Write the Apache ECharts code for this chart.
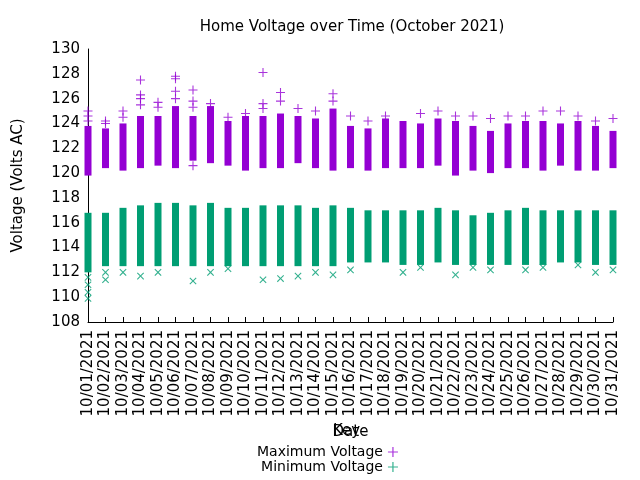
<!DOCTYPE html>
<html><head><meta charset="utf-8">
<script src="https://cdn.jsdelivr.net/npm/echarts@6/dist/echarts.min.js"></script>
<style>html,body{margin:0;background:#fff}#c{width:640px;height:480px}</style>
</head><body><div id="c"></div>
<script>
const days = []
for (let d = 1; d <= 31; d++) days.push('10/' + String(d).padStart(2, '0') + '/2021')

// daily ranges
const maxLow  = [119.8,120.4,120.2,120.4,120.6,120.4,121.0,120.8,120.6,120.2,120.4,120.4,120.8,120.4,120.2,120.4,120.2,120.4,120.4,120.4,120.6,119.8,120.2,120.0,120.4,120.4,120.2,120.6,120.2,120.2,120.4]
const maxHigh = [123.8,123.6,124.0,124.6,124.6,125.4,124.6,125.4,124.2,124.6,124.6,124.8,124.6,124.4,125.2,123.8,123.6,124.4,124.2,124.0,124.4,124.2,123.8,123.4,124.0,124.2,124.2,124.0,124.2,123.8,123.4]
const minLow  = [112.0,112.5,112.5,112.5,112.5,112.5,112.5,112.5,112.5,112.5,112.5,112.5,112.5,112.5,112.5,112.8,112.8,112.8,112.6,112.6,112.8,112.6,112.6,112.6,112.6,112.6,112.6,112.8,112.8,112.6,112.6]
const minHigh = [116.8,116.8,117.2,117.4,117.6,117.6,117.4,117.6,117.2,117.2,117.4,117.4,117.4,117.2,117.4,117.2,117.0,117.0,117.0,117.0,117.2,117.0,116.6,116.8,117.0,117.2,117.0,117.0,117.0,117.0,117.0]
// outlier readings [dayIndex, volts]
const maxOut = [[0,124.2],[0,124.6],[0,125],[1,124],[1,124.2],[2,124.5],[2,125],[3,125.5],[3,126],[3,126.3],[3,127.5],[4,125.3],[4,125.7],[5,126],[5,126.6],[5,127.6],[5,127.8],[6,125.3],[6,125.8],[6,126.7],[6,120.6],[7,125.6],[8,124.5],[9,124.8],[10,125.2],[10,125.6],[10,128.1],[11,125.8],[11,126.5],[12,125.2],[13,125],[14,125.8],[14,126.4],[15,124.6],[16,124.2],[17,124.6],[19,124.8],[20,125],[21,124.6],[22,124.6],[23,124.4],[24,124.6],[25,124.6],[26,125],[27,125],[28,124.6],[29,124.2],[30,124.4]]
const minOut = [[0,111],[0,110.4],[0,109.9],[0,111.6],[1,111.4],[1,112],[2,112],[3,111.7],[4,112],[6,111.3],[7,112],[8,112.3],[10,111.4],[11,111.5],[12,111.7],[13,112],[14,111.8],[15,112.2],[18,112],[19,112.4],[21,111.8],[22,112.4],[23,112.2],[25,112.2],[26,112.4],[28,112.6],[29,112],[30,112.2]]

const purple = '#9400d3', green = '#009e73'
const plus = 'path://M4.4,0L5.6,0L5.6,4.4L10,4.4L10,5.6L5.6,5.6L5.6,10L4.4,10L4.4,5.6L0,5.6L0,4.4L4.4,4.4Z'

const chart = echarts.init(document.getElementById('c'))
chart.setOption({
  animation: false,
  textStyle: { fontFamily: 'DejaVu Sans', color: '#000' },
  title: { text: 'Home Voltage over Time (October 2021)', left: 347, textAlign: 'center', top: 15,
    textStyle: { fontSize: 15, fontWeight: 'normal', color: '#000' } },
  grid: { left: 88, right: 27, top: 49, bottom: 158 },
  graphic: [{ type: 'text', left: 333, top: 424, style: { text: 'Key', fontSize: 15, fontFamily: 'DejaVu Sans', fill: '#000' } }],
  legend: {
    orient: 'vertical', left: 252, top: 440, align: 'right', itemGap: 1, itemWidth: 10, itemHeight: 10,
    textStyle: { fontSize: 14, color: '#000' },
    data: [{ name: 'Maximum Voltage', icon: plus }, { name: 'Minimum Voltage', icon: plus }]
  },
  xAxis: {
    type: 'category', data: days, boundaryGap: false, name: 'Date', nameLocation: 'middle', nameGap: 77,
    nameTextStyle: { fontSize: 15 },
    axisLine: { lineStyle: { color: '#000' } }, axisTick: { alignWithLabel: true, inside: true, lineStyle: { color: '#000' } },
    axisLabel: { rotate: 90, fontSize: 15, color: '#000', interval: 0 }
  },
  yAxis: {
    type: 'value', min: 108, max: 130, interval: 2, name: 'Voltage (Volts AC)', nameLocation: 'middle', nameGap: 62,
    nameTextStyle: { fontSize: 15 },
    axisLine: { show: true, lineStyle: { color: '#000' } }, axisTick: { inside: true, lineStyle: { color: '#000' } },
    splitLine: { show: false }, axisLabel: { fontSize: 15, color: '#000' }
  },
  series: [
    { type: 'bar', stack: 'mx', data: maxLow, itemStyle: { color: 'transparent' }, barWidth: 7, silent: true },
    { type: 'bar', stack: 'mx', data: maxHigh.map((v, i) => +(v - maxLow[i]).toFixed(2)), itemStyle: { color: purple }, barWidth: 7 },
    { type: 'bar', stack: 'mn', data: minLow, itemStyle: { color: 'transparent' }, barWidth: 7, barGap: '-100%' },
    { type: 'bar', stack: 'mn', data: minHigh.map((v, i) => +(v - minLow[i]).toFixed(2)), itemStyle: { color: green }, barWidth: 7, barGap: '-100%' },
    { name: 'Maximum Voltage', type: 'scatter', data: maxOut, symbol: plus, symbolSize: 9, itemStyle: { color: purple } },
    { name: 'Minimum Voltage', type: 'scatter', data: minOut, symbol: plus, symbolSize: 9, symbolRotate: 45, itemStyle: { color: green } }
  ]
})
</script></body></html>
